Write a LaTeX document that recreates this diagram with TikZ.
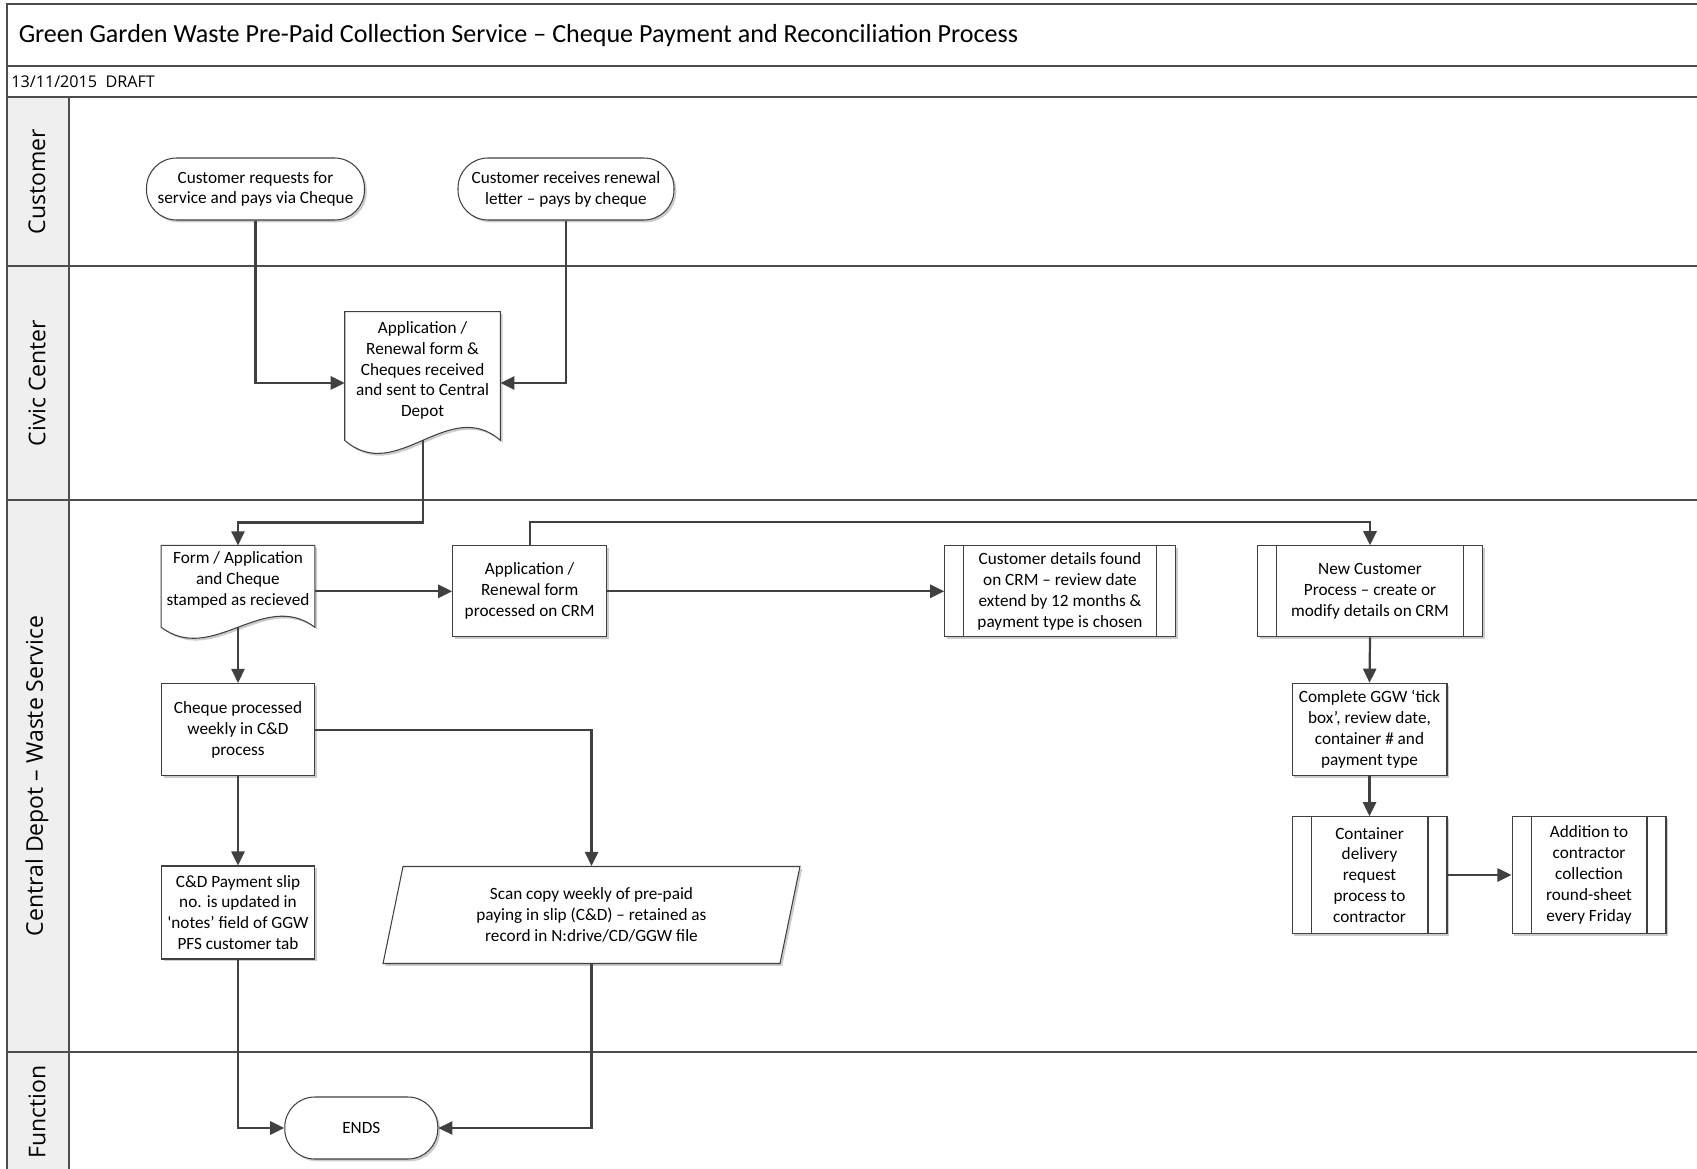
\documentclass[tikz,border=0pt]{standalone}
\usepackage{fontspec}
\setmainfont{Carlito}
\newfontfamily\lanefont{Open Sans}
\usetikzlibrary{arrows.meta,calc,shapes.geometric,shadows,backgrounds}

\definecolor{edgegray}{HTML}{404040}
\definecolor{lanegray}{HTML}{4D4D4D}
\definecolor{headfill}{HTML}{EFEFEF}

\tikzset{
  boxline/.style={draw=edgegray, line width=0.6pt},
  boxshadow/.style={drop shadow={shadow xshift=1.3pt, shadow yshift=-1.3pt, opacity=0.2, fill=black}},
  boxtext/.style={align=center, font=\fontsize{9.8pt}{11.9pt}\selectfont, inner sep=2pt},
  procbox/.style={rectangle, boxline, fill=white, boxshadow, boxtext},
  termbox/.style={rectangle, rounded corners=0.6cm, boxline, fill=white, boxshadow, boxtext},
  predefbox/.style={procbox, path picture={
      \draw[boxline] ([xshift=0.38cm]path picture bounding box.north west) -- ([xshift=0.38cm]path picture bounding box.south west);
      \draw[boxline] ([xshift=-0.38cm]path picture bounding box.north east) -- ([xshift=-0.38cm]path picture bounding box.south east);}},
  docbox/.style={rectangle, boxtext},
  iobox/.style={trapezium, trapezium left angle=72, trapezium right angle=108, trapezium stretches body, boxline, fill=white, boxshadow, boxtext},
  flow/.style={draw=edgegray, line width=1.25pt, -{Triangle[length=8pt, width=7.5pt]}},
  laneline/.style={draw=lanegray, line width=1.2pt},
  lanelabel/.style={rotate=90, font=\lanefont\fontsize{13.1pt}{15pt}\selectfont},
}

% document shape: the node holds the text, the body runs #3 further down, then the wave
\def\docwave(#1)(#2)(#3){%
  \coordinate (#1-se) at ($(#1.south east)+(0pt,-#3)$);
  \coordinate (#1-sw) at ($(#1.south west)+(0pt,-#3)$);
  \coordinate (#1-out) at ($(#1.south)+(0pt,-#3)$);
  \begin{pgfonlayer}{background}
    \draw[boxline, fill=white, boxshadow] (#1.north west) -- (#1.north east) -- (#1-se)
      .. controls ($(#1-se)!1/3!(#1-sw)+(0pt,3.46*#2)$) and ($(#1-se)!2/3!(#1-sw)+(0pt,-3.46*#2)$) .. (#1-sw) -- cycle;
  \end{pgfonlayer}}

\begin{document}
\begin{tikzpicture}[x=0.02cm, y=-0.02cm]
  \useasboundingbox (0,0) rectangle (1697,1169);

  %%% lanes
  \begin{scope}
    \clip (0,0) rectangle (1697,1169);
    \fill[headfill] (7.3,97) rectangle (69,1200);
    \draw[laneline] (1720,4) -- (7.3,4) -- (7.3,1200);
    \draw[laneline] (7.3,66) -- (1720,66);
    \draw[laneline] (7.3,97) -- (1720,97);
    \draw[laneline] (7.3,266) -- (1720,266);
    \draw[laneline] (7.3,500) -- (1720,500);
    \draw[laneline] (7.3,1051.7) -- (1720,1051.7);
    \draw[laneline] (69,97) -- (69,1200);
  \end{scope}

  \node[anchor=west, inner sep=0pt, font=\fontsize{14.85pt}{17pt}\selectfont] (title) at (18.4,35.7) {Green Garden Waste Pre-Paid Collection Service – Cheque Payment and Reconciliation Process};
  \node[anchor=west, inner sep=0pt, font=\lanefont\fontsize{9.2pt}{10pt}\selectfont] (date) at (11,81.5) {13/11/2015\ \ DRAFT};

  \node[lanelabel] (lcust) at (37,181.5) {Customer};
  \node[lanelabel] (lcivic) at (37,383) {Civic Center};
  \node[lanelabel] (ldepot) at (37,776) {Central Depot – Waste Service};
  \node[lanelabel] (lfunc) at (37,1112) {Function};

  %%% customer
  \node[termbox, minimum width=4.36cm, minimum height=1.24cm] (custreq) at (255.5,189) {Customer requests for\\service and pays via Cheque};
  \node[termbox, minimum width=4.32cm, minimum height=1.24cm] (custrenew) at (566,189) {Customer receives renewal\\letter – pays by cheque};

  %%% civic center
  \node[docbox, minimum width=3.1cm, minimum height=2.34cm] (civicdoc) at (422.6,370.5) {Application /\\Renewal form \&\\Cheques received\\and sent to Central\\Depot};
  \docwave(civicdoc)(7.4pt)(6.3pt)

  %%% central depot
  \node[docbox, minimum width=3.06cm, minimum height=1.37cm] (stampdoc) at (238,580) {Form / Application\\and Cheque\\stamped as recieved};
  \docwave(stampdoc)(6.3pt)(7.2pt)

  \node[procbox, minimum width=3.08cm, minimum height=1.82cm] (crmproc) at (529.7,591.3) {Application /\\Renewal form\\processed on CRM};
  \node[predefbox, minimum width=4.61cm, minimum height=1.82cm] (found) at (1060,591.3) {Customer details found\\on CRM – review date\\extend by 12 months \&\\payment type is chosen};
  \node[predefbox, minimum width=4.5cm, minimum height=1.82cm] (newcust) at (1370,591.3) {New Customer\\Process – create or\\modify details on CRM};
  \node[procbox, minimum width=3.1cm, minimum height=1.85cm] (ggwtick) at (1369.5,729.5) {Complete GGW ‘tick\\box’, review date,\\container \# and\\payment type};
  \node[predefbox, minimum width=3.1cm, minimum height=2.33cm] (delivery) at (1369.5,875) {Container\\delivery\\request\\process to\\contractor};
  \node[predefbox, minimum width=3.08cm, minimum height=2.33cm] (roundsheet) at (1589,875) {Addition to\\contractor\\collection\\round-sheet\\every Friday};

  \node[procbox, minimum width=3.06cm, minimum height=1.85cm] (chqproc) at (238,729.7) {Cheque processed\\weekly in C\&D\\process};
  \node[procbox, minimum width=3.06cm, minimum height=1.86cm] (payslip) at (238,912.5) {C\&D Payment slip\\no. is updated in\\\textquotesingle notes’ field of GGW\\PFS customer tab};
  \node[iobox, minimum width=8.34cm, minimum height=1.94cm] (scancopy) at (591.5,915) {Scan copy weekly of pre-paid\\paying in slip (C\&D) – retained as\\record in N:drive/CD/GGW file};

  %%% function
  \node[termbox, minimum width=3.06cm, minimum height=1.24cm] (ends) at (361.3,1128) {ENDS};

  %%% connectors
  \draw[flow] (custreq.south) |- ([yshift=-7.1pt]civicdoc.west);
  \draw[flow] (custrenew.south) |- ([yshift=-7.1pt]civicdoc.east);
  \draw[flow] (civicdoc-out) -- ++(0,82) -| (stampdoc.north);
  \draw[flow] (crmproc.west -| stampdoc.east) -- (crmproc.west);
  \draw[flow] (crmproc.north) -- ++(0,-23.4) -| (newcust.north);
  \draw[flow] (crmproc.east) -- (found.west);
  \draw[flow] (newcust.south) -- (ggwtick.north);
  \draw[flow] (ggwtick.south) -- (delivery.north);
  \draw[flow] (delivery.east) -- (roundsheet.west);
  \draw[flow] (stampdoc-out) -- (chqproc.north);
  \draw[flow] (chqproc.south) -- (payslip.north);
  \draw[flow] (chqproc.east) -| (scancopy.north);
  \draw[flow] (payslip.south) |- (ends.west);
  \draw[flow] (scancopy.south) |- (ends.east);
\end{tikzpicture}
\end{document}
